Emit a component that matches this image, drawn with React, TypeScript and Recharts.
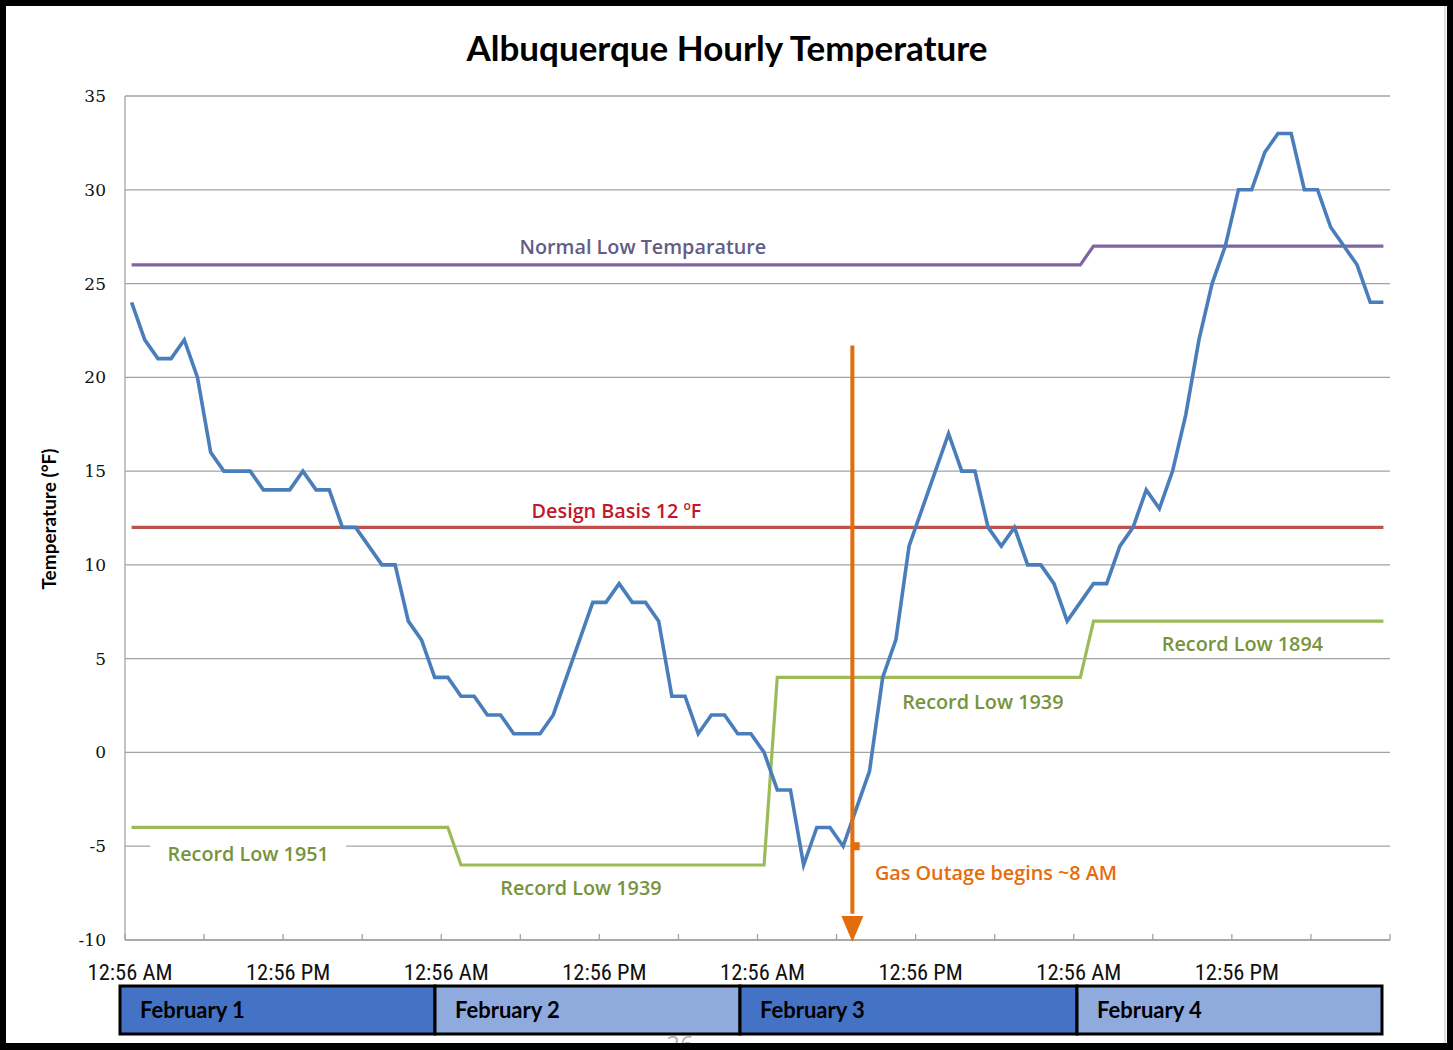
import React from 'react';
import { LineChart, Line, XAxis, YAxis, CartesianGrid, ReferenceLine, ReferenceDot } from 'recharts';

// Hourly temperature (°F), Feb 1 – Feb 4, one value per hour (readings at :56)
const temperature = [
  24, 22, 21, 21, 22, 20, 16, 15, 15, 15, 14, 14, 14, 15, 14, 14, 12, 12, 11, 10, 10, 7, 6, 4,
  4, 3, 3, 2, 2, 1, 1, 1, 2, 4, 6, 8, 8, 9, 8, 8, 7, 3, 3, 1, 2, 2, 1, 1,
  0, -2, -2, -6, -4, -4, -5, -3, -1, 4, 6, 11, 13, 15, 17, 15, 15, 12, 11, 12, 10, 10, 9, 7,
  8, 9, 9, 11, 12, 14, 13, 15, 18, 22, 25, 27, 30, 30, 32, 33, 33, 30, 30, 28, 27, 26, 24, 24,
];

const normalLow = [
  26, 26, 26, 26, 26, 26, 26, 26, 26, 26, 26, 26, 26, 26, 26, 26, 26, 26, 26, 26, 26, 26, 26, 26,
  26, 26, 26, 26, 26, 26, 26, 26, 26, 26, 26, 26, 26, 26, 26, 26, 26, 26, 26, 26, 26, 26, 26, 26,
  26, 26, 26, 26, 26, 26, 26, 26, 26, 26, 26, 26, 26, 26, 26, 26, 26, 26, 26, 26, 26, 26, 26, 26,
  26, 27, 27, 27, 27, 27, 27, 27, 27, 27, 27, 27, 27, 27, 27, 27, 27, 27, 27, 27, 27, 27, 27, 27,
];

const recordLow = [
  -4, -4, -4, -4, -4, -4, -4, -4, -4, -4, -4, -4, -4, -4, -4, -4, -4, -4, -4, -4, -4, -4, -4, -4,
  -4, -6, -6, -6, -6, -6, -6, -6, -6, -6, -6, -6, -6, -6, -6, -6, -6, -6, -6, -6, -6, -6, -6, -6,
  -6, 4, 4, 4, 4, 4, 4, 4, 4, 4, 4, 4, 4, 4, 4, 4, 4, 4, 4, 4, 4, 4, 4, 4,
  4, 7, 7, 7, 7, 7, 7, 7, 7, 7, 7, 7, 7, 7, 7, 7, 7, 7, 7, 7, 7, 7, 7, 7,
];

const designBasis = [
  12, 12, 12, 12, 12, 12, 12, 12, 12, 12, 12, 12, 12, 12, 12, 12, 12, 12, 12, 12, 12, 12, 12, 12,
  12, 12, 12, 12, 12, 12, 12, 12, 12, 12, 12, 12, 12, 12, 12, 12, 12, 12, 12, 12, 12, 12, 12, 12,
  12, 12, 12, 12, 12, 12, 12, 12, 12, 12, 12, 12, 12, 12, 12, 12, 12, 12, 12, 12, 12, 12, 12, 12,
  12, 12, 12, 12, 12, 12, 12, 12, 12, 12, 12, 12, 12, 12, 12, 12, 12, 12, 12, 12, 12, 12, 12, 12,
];

const xTicks = [0, 6, 12, 18, 24, 30, 36, 42, 48, 54, 60, 66, 72, 78, 84, 90, 96];
const xTickLabels = ['12:56 AM', '12:56 PM', '12:56 AM', '12:56 PM', '12:56 AM', '12:56 PM', '12:56 AM', '12:56 PM'];
const yTicks = [-10, -5, 0, 5, 10, 15, 20, 25, 30, 35];
const dayLabels = ['February 1', 'February 2', 'February 3', 'February 4'];

const title = 'Albuquerque Hourly Temperature';
const yLabel = 'Temperature (°F)';
const outageHour = 55.2;
const outageTop = 21.7;

const data = temperature.map((t, i) => ({
  hour: i + 0.5,
  temp: t,
  normal: normalLow[i],
  record: recordLow[i],
  design: designBasis[i],
}));

const W = 1453;
const H = 1050;
const labelFont = "'Open Sans', 'Noto Sans', sans-serif";
const headFont = "Lato, 'Open Sans', sans-serif";
const gridColor = '#a3a3a3';
const orange = '#e46c0a';
const green = '#9bbb59';
const greenText = '#77933c';

// layout of the day strip under the chart
const bandEdges = [120, 435, 740, 1077, 1382];
const bandFills = ['#4472c4', '#8faadc', '#4472c4', '#8faadc'];

const XTick = (props: any) => {
  const { x, y, payload } = props;
  const v = payload.value;
  const showLabel = v % 12 === 0 && v < 96;
  return (
    <g>
      <line x1={x} x2={x} y1={y} y2={y - 6} stroke={gridColor} strokeWidth={1.3} />
      {showLabel ? (
        <text
          x={x + 5}
          y={y + 40}
          textAnchor="middle"
          fontFamily="'Liberation Sans Narrow', 'Roboto Condensed', 'Liberation Sans', sans-serif"
          fontSize={22.5}
          fill="#111"
        >
          {xTickLabels[v / 12]}
        </text>
      ) : null}
    </g>
  );
};

const textShape = (text: React.ReactNode, color: string, opts: any = {}) => (p: any) => (
  <g>
    {opts.bg ? (
      <rect x={p.cx - opts.bg / 2} y={p.cy - 22} width={opts.bg} height={32} fill="#fff" />
    ) : null}
    <text
      x={p.cx}
      y={p.cy}
      textAnchor="middle"
      fill={color}
      fontFamily={labelFont}
      fontSize={19.8}
      fontWeight={600}
    >
      {text}
    </text>
  </g>
);

const arrowHead = (p: any) => (
  <polygon
    points={`${p.cx - 11},${p.cy - 24} ${p.cx + 11},${p.cy - 24} ${p.cx},${p.cy + 2}`}
    fill={orange}
  />
);

const squareMark = (p: any) => (
  <rect x={p.cx - 4} y={p.cy - 4} width={8} height={8} fill={orange} />
);

export default function App() {
  return (
    <div style={{ position: 'absolute', left: 0, top: 0, width: W, height: H, overflow: 'hidden' }}>
      <svg width={W} height={H} style={{ position: 'absolute', left: 0, top: 0 }}>
        <rect x={0} y={0} width={W} height={H} fill="#000" />
        <rect x={6} y={6} width={1441} height={1037} fill="#fff" />
        <line x1={1445} x2={1445} y1={6} y2={1043} stroke="#bbb" strokeWidth={1} />
      </svg>
      <div style={{ position: 'absolute', left: 0, top: 0 }}>
        <LineChart
          width={W}
          height={H}
          data={data}
          margin={{ top: 96, right: 63, left: 65, bottom: 60 }}
        >
          <CartesianGrid vertical={false} stroke={gridColor} strokeWidth={1.3} />
          <XAxis
            dataKey="hour"
            type="number"
            domain={[0, 96]}
            ticks={xTicks}
            interval={0}
            tick={<XTick />}
            tickLine={false}
            tickSize={0}
            tickMargin={0}
            height={50}
            stroke={gridColor}
            strokeWidth={1.3}
            allowDataOverflow
          />
          <YAxis
            type="number"
            domain={[-10, 35]}
            ticks={yTicks}
            interval={0}
            width={60}
            tickLine={false}
            tickSize={0}
            tickMargin={19}
            stroke={gridColor}
            strokeWidth={1.3}
            tick={{ fill: '#111', fontSize: 17, fontFamily: "'DejaVu Serif', serif" }}
            allowDataOverflow
          />
          <Line type="linear" dataKey="record" stroke={green} strokeWidth={3.2} dot={false} isAnimationActive={false} />
          <Line type="linear" dataKey="design" stroke="#c0504d" strokeWidth={3.2} dot={false} isAnimationActive={false} />
          <Line type="linear" dataKey="normal" stroke="#8064a2" strokeWidth={3.2} dot={false} isAnimationActive={false} />
          <Line type="linear" dataKey="temp" stroke="#4a7ebb" strokeWidth={3.6} dot={false} isAnimationActive={false} />

          <ReferenceDot x={39.3} y={26.6} r={0} shape={textShape('Normal Low Temparature', '#625c86')} />
          <ReferenceDot
            x={37.3}
            y={12.5}
            r={0}
            shape={textShape(
              <>
                {'Design Basis 12 '}
                <tspan fontSize={12} dy={-8}>o</tspan>
                <tspan dy={8}>F</tspan>
              </>,
              '#c0182e'
            )}
          />
          <ReferenceDot x={9.35} y={-5.8} r={0} shape={textShape('Record Low 1951', greenText, { bg: 196 })} />
          <ReferenceDot x={34.6} y={-7.6} r={0} shape={textShape('Record Low 1939', greenText)} />
          <ReferenceDot x={65.1} y={2.3} r={0} shape={textShape('Record Low 1939', greenText)} />
          <ReferenceDot x={84.8} y={5.4} r={0} shape={textShape('Record Low 1894', greenText)} />
          <ReferenceDot x={66.1} y={-6.8} r={0} shape={textShape('Gas Outage begins ~8 AM', orange)} />

          <ReferenceLine
            segment={[
              { x: outageHour, y: outageTop },
              { x: outageHour, y: -8.6 },
            ]}
            stroke={orange}
            strokeWidth={4}
          />
          <ReferenceDot x={outageHour} y={-10} r={0} shape={arrowHead} />
          <ReferenceDot x={55.45} y={-5} r={0} shape={squareMark} />
        </LineChart>
      </div>
      <svg width={W} height={H} style={{ position: 'absolute', left: 0, top: 0, pointerEvents: 'none' }}>
        <text x={727} y={61} textAnchor="middle" fontFamily={headFont} fontWeight={700} fontSize={35} fill="#000">
          {title}
        </text>
        <text
          x={0}
          y={0}
          transform="translate(56,519) rotate(-90)"
          textAnchor="middle"
          fontFamily={headFont}
          fontWeight={700}
          fontSize={19}
          fill="#000"
        >
          {yLabel}
        </text>
        <text x={680} y={1053} textAnchor="middle" fontFamily={labelFont} fontSize={24} fill="#b5b5b5">
          26
        </text>
        {dayLabels.map((d, i) => (
          <g key={d}>
            <rect
              x={bandEdges[i]}
              y={986}
              width={bandEdges[i + 1] - bandEdges[i]}
              height={48}
              fill={bandFills[i]}
              stroke="#000"
              strokeWidth={3}
            />
            <text x={bandEdges[i] + 20} y={1018} fontFamily={headFont} fontWeight={700} fontSize={22} fill="#000">
              {d}
            </text>
          </g>
        ))}
        <rect x={0} y={1043} width={W} height={7} fill="#000" />
      </svg>
    </div>
  );
}
